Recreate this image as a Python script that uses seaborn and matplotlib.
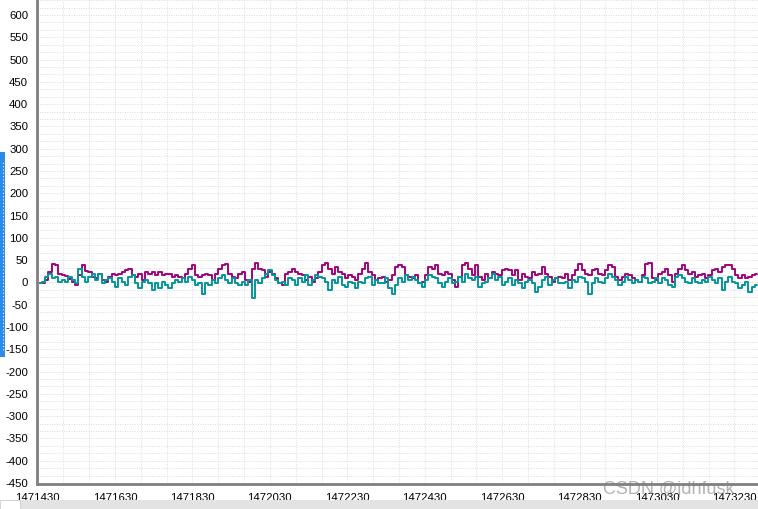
import numpy as np
import pandas as pd
import matplotlib
matplotlib.use("Agg")
import matplotlib.pyplot as plt
from matplotlib.ticker import AutoMinorLocator
from matplotlib.patches import Rectangle
import seaborn as sns

# ---- data ----
x_start = 1471436
x_step = 8.61

magenta_a = [-2,-2,5,24,41,39,20,16,14,7,1,-6,16,39,26,24,13,9,20,5,1,13,20,16,20,24,28,31,16,13,20,5,24,20,24,16,24,16,20,20,13,16,13,9,20,31,39,16,13,16,20,16]
magenta_b = [5,20,31,39,41,20,13,9,20,24,5,1,31,43,31,28,13,24,20,9,-2,-6,20,24,31,24,20,16,5,13,1,9,24,39,43,31,20,35,24,20,9,16,13,5,20,31,43,24,16,5,9]
magenta_c = [13,1,5,16,35,39,35,16,13,9,16,-2,1,16,35,31,39,20,16,24,20,5,-10,13,39,43,31,16,39,13,5,20,9,24,20,16,28,31,28,16,28,5,20,13,9,24,16,20,35,20,13,1,9,13]
magenta_d = [9,20,5,16,28,41,28,20,16,28,31,20,16,28,39,35,13,5,13,20,16,9,5,1,16,41,44,9,5,20,24,31,16,1,20,31,39,28,20,24,13,16,20,9,16,28,31,24,35,39,39,31,16,9,16,9,13,16,20]

teal_a = [-2,1,13,20,9,13,1,5,1,13,5,-2,31,13,1,13,20,5,20,-2,5,9,1,-10,9,1,-6,13,16,-2,-13,1,5,-2,-17,-2,-13,1,-6,-13,-2,5,1,9,1,13,5,-6,-2,-25,-2,-6]
teal_b = [5,-2,9,16,5,-2,9,-2,-6,1,-6,5,-36,5,-2,9,20,28,16,5,-2,1,-6,9,5,-6,9,1,16,-6,5,16,13,9,1,-17,5,-2,13,-6,-10,1,-2,-13,1,-2,9,13,-6,5,-2]
teal_c = [-2,9,-13,-25,-6,9,1,16,5,13,5,-2,-10,5,16,13,9,-2,-10,1,9,-2,1,13,1,20,9,5,13,-10,-2,1,9,20,5,13,-6,1,9,-6,5,-2,-13,1,5,-2,-21,-10,5,13,-6,5,9,-2]
teal_d = [-2,1,-13,5,1,13,9,1,-25,-2,9,1,-2,9,20,13,5,-6,1,13,5,-2,5,1,13,9,-2,1,9,-2,9,5,-6,-10,13,16,9,1,-2,9,1,-2,5,1,13,5,-2,9,-17,1,13,1,-2,-13,-6,1,-21,-10,-6]

x_ticks = [1471430, 1471630, 1471830, 1472030, 1472230, 1472430, 1472630, 1472830, 1473030, 1473230]
y_ticks = list(range(-450, 601, 50))

magenta = magenta_a + magenta_b + magenta_c + magenta_d
teal = teal_a + teal_b + teal_c + teal_d
xs = x_start + x_step * np.arange(len(magenta))

df = pd.DataFrame({
    "x": np.concatenate([xs, xs]),
    "value": magenta + teal,
    "series": ["magenta"] * len(magenta) + ["teal"] * len(teal),
})

sns.set_style("white")
plt.rcParams["font.family"] = ["Liberation Sans", "DejaVu Sans"]

fig = plt.figure(figsize=(7.58, 5.09), dpi=100)
ax = fig.add_axes([36.5 / 758, 24.7 / 509, 1 - 36.5 / 758, 1 - 24.7 / 509])

sns.lineplot(data=df, x="x", y="value", hue="series",
             palette={"magenta": "#A0037F", "teal": "#02969B"},
             estimator=None, sort=False, drawstyle="steps-mid",
             linewidth=1.4, legend=False, ax=ax)

ax.set_xlim(1471427, 1473291)
ax.set_ylim(-453, 633.7)
ax.set_xticks(x_ticks)
ax.set_xticklabels([str(v) for v in x_ticks])
ax.set_yticks(y_ticks)
ax.set_yticklabels([str(v) for v in y_ticks])
ax.xaxis.set_minor_locator(AutoMinorLocator(3))
ax.yaxis.set_minor_locator(AutoMinorLocator(3))
ax.set_xlabel("")
ax.set_ylabel("")

ax.grid(which="both", linestyle=(0, (1, 1.5)), color="#dcdcdc", linewidth=0.7)
ax.set_axisbelow(True)

for s in ["top", "right"]:
    ax.spines[s].set_visible(False)
for s in ["left", "bottom"]:
    ax.spines[s].set_color("#808080")
    ax.spines[s].set_linewidth(2)

ax.tick_params(which="major", length=4, width=1, color="#808080",
               labelsize=8.2, labelcolor="black", pad=2)
ax.tick_params(which="minor", length=2, width=1, color="#808080")

# window chrome: bottom scrollbar and left blue slider
fig.patches.append(Rectangle((0, 0), 1, 9.5 / 509, transform=fig.transFigure,
                             facecolor="#e3e3e3", edgecolor="none", zorder=5))
fig.patches.append(Rectangle((0, 0), 20 / 758, 9.5 / 509, transform=fig.transFigure,
                             facecolor="#ffffff", edgecolor="#c8c8c8", linewidth=0.5, zorder=6))
fig.patches.append(Rectangle((0, (509 - 357) / 509), 5 / 758, 205 / 509,
                             transform=fig.transFigure, facecolor="#2b8be6",
                             edgecolor="none", zorder=5))
fig.lines.append(plt.Line2D([2.5 / 758, 2.5 / 758], [(509 - 350) / 509, (509 - 160) / 509],
                            transform=fig.transFigure, color="white",
                            linestyle=(0, (1, 2)), linewidth=0.8, zorder=6))

# watermark (overlaps the tick labels in the reference as well)
fig.text(603 / 758, 15 / 509, "CSDN @jdhfusk", fontsize=13, color="#808080",
         alpha=0.6, ha="left", va="baseline")

fig.savefig("out.png", dpi=100)
